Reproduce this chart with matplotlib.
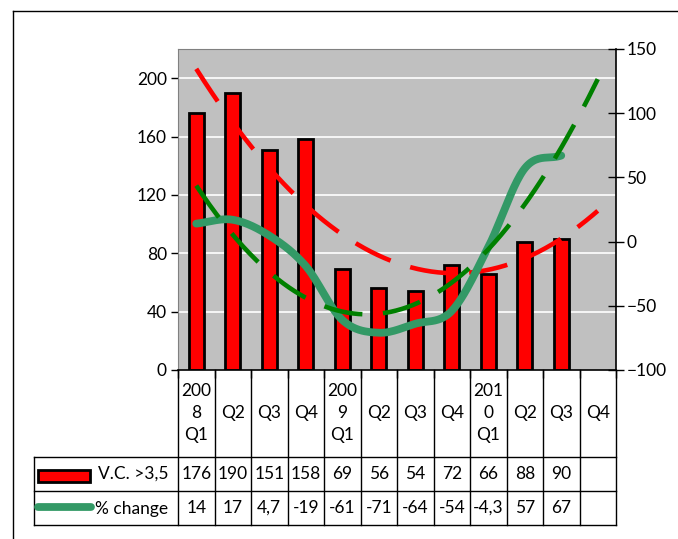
import numpy as np
import matplotlib
matplotlib.use("Agg")
import matplotlib.pyplot as plt
from matplotlib.lines import Line2D
from matplotlib.patches import Rectangle

plt.rcParams['font.family'] = ['Lato', 'DejaVu Sans']
plt.rcParams['font.size'] = 12

# ---- data ----
categories = ["200\n8\nQ1", "Q2", "Q3", "Q4", "200\n9\nQ1", "Q2", "Q3", "Q4",
              "201\n0\nQ1", "Q2", "Q3", "Q4"]
vc_values = [176, 190, 151, 158, 69, 56, 54, 72, 66, 88, 90]
pct_change = [14, 17, 4.7, -19, -61, -71, -64, -54, -4.3, 57, 67]
vc_labels = ["176", "190", "151", "158", "69", "56", "54", "72", "66", "88", "90", ""]
pct_labels = ["14", "17", "4,7", "-19", "-61", "-71", "-64", "-54", "-4,3", "57", "67", ""]
series_names = ["V.C. >3,5", "% change"]
left_ticks = [0, 40, 80, 120, 160, 200]
right_ticks = [-100, -50, 0, 50, 100, 150]

W, H = 678, 539
fig = plt.figure(figsize=(W / 100, H / 100), dpi=100)

def fx(x):
    return x / W

def fy(y):
    return 1 - y / H

L, R, T, B = 178, 616, 49, 370
ax = fig.add_axes([fx(L), fy(B), (R - L) / W, (B - T) / H])
ax.set_xlim(0, len(categories))
ax.set_ylim(0, 220)
ax.set_facecolor('#C0C0C0')
for v in left_ticks[1:]:
    ax.axhline(v, color='white', lw=1.2, zorder=1)

n = len(vc_values)
idx = np.arange(1, n + 1)
xc = idx - 0.5
ax.bar(xc, vc_values, width=0.42, color='#FF0000', edgecolor='black', lw=2, zorder=2)

ax.set_yticks(left_ticks)
ax.tick_params(axis='y', direction='out', length=5, width=1, pad=3, labelsize=12.5)
ax.set_xticks(np.arange(0, len(categories) + 1))
ax.set_xticklabels([])
ax.tick_params(axis='x', direction='out', length=6, width=1)
ax.spines['top'].set_color('#808080')
ax.spines['left'].set_color('#808080')
ax.spines['right'].set_visible(False)
ax.spines['bottom'].set_color('black')
ax.spines['bottom'].set_linewidth(1.2)

ax2 = ax.twinx()
ax2.set_ylim(-100, 150)
ax2.set_yticks(right_ticks)
ax2.tick_params(axis='y', direction='inout', length=11, width=1, pad=2, labelsize=12.5)
for s in ['top', 'left', 'bottom']:
    ax2.spines[s].set_visible(False)
ax2.spines['right'].set_color('black')
ax2.spines['right'].set_linewidth(1.2)

# smooth line (Catmull-Rom through the data points)
def catmull(xs, ys, steps=24):
    xs = np.asarray(xs, float); ys = np.asarray(ys, float)
    px = np.concatenate([[2 * xs[0] - xs[1]], xs, [2 * xs[-1] - xs[-2]]])
    py = np.concatenate([[2 * ys[0] - ys[1]], ys, [2 * ys[-1] - ys[-2]]])
    outx, outy = [], []
    for i in range(1, len(px) - 2):
        t = np.linspace(0, 1, steps, endpoint=False)
        for arr, out in ((px, outx), (py, outy)):
            p0, p1, p2, p3 = arr[i - 1], arr[i], arr[i + 1], arr[i + 2]
            out.extend(0.5 * ((2 * p1) + (-p0 + p2) * t + (2 * p0 - 5 * p1 + 4 * p2 - p3) * t ** 2
                              + (-p0 + 3 * p1 - 3 * p2 + p3) * t ** 3))
    outx.append(xs[-1]); outy.append(ys[-1])
    return np.array(outx), np.array(outy)

sx, sy = catmull(xc, pct_change)
ax2.plot(sx, sy, color='#339966', lw=5.6, solid_capstyle='round', zorder=3)

# polynomial trend lines (order 2, forecast 1 period)
tt = np.linspace(1, n + 1, 300)
c_vc = np.polyfit(idx, vc_values, 2)
c_pc = np.polyfit(idx, pct_change, 2)
ax.plot(tt - 0.5, np.polyval(c_vc, tt), color='#FF0000', lw=3.3, dashes=(8.5, 4.5), zorder=4)
ax2.plot(tt - 0.5, np.polyval(c_pc, tt), color='#008000', lw=3.3, dashes=(8.5, 4.5), zorder=4)

# ---- data table ----
colw = (R - L) / len(categories)
r1, r2, r3 = 457, 491, 525
line_kw = dict(color='black', lw=1, transform=fig.transFigure)
for k in range(len(categories) + 1):
    x = L + k * colw
    fig.add_artist(Line2D([fx(x), fx(x)], [fy(B), fy(r3)], **line_kw))
fig.add_artist(Line2D([fx(34), fx(34)], [fy(r1), fy(r3)], **line_kw))
for y in (r1, r2, r3):
    fig.add_artist(Line2D([fx(34), fx(R)], [fy(y), fy(y)], **line_kw))

for k, lab in enumerate(categories):
    cx = L + (k + 0.5) * colw
    fig.text(fx(cx), fy(413), lab, ha='center', va='center', fontsize=12.5, linespacing=1.45)
    fig.text(fx(cx), fy(474), vc_labels[k], ha='center', va='center', fontsize=12.5)
    fig.text(fx(cx), fy(508), pct_labels[k], ha='center', va='center', fontsize=12.5)

fig.add_artist(Rectangle((fx(38), fy(482)), (90 - 38) / W, 12 / H, transform=fig.transFigure,
                         facecolor='#FF0000', edgecolor='black', lw=2))
fig.text(fx(98), fy(474), series_names[0], ha='left', va='center', fontsize=12.5)
fig.add_artist(Line2D([fx(38), fx(91)], [fy(507), fy(507)], color='#339966', lw=5.6,
                      solid_capstyle='round', transform=fig.transFigure))
fig.text(fx(95), fy(509), series_names[1], ha='left', va='center', fontsize=12.5)

# outer chart frame
fig.add_artist(Line2D([fx(13), fx(W + 5)], [fy(11), fy(11)], **line_kw))
fig.add_artist(Line2D([fx(13), fx(13)], [fy(11), fy(H + 5)], **line_kw))

fig.savefig('out.png', dpi=100)
